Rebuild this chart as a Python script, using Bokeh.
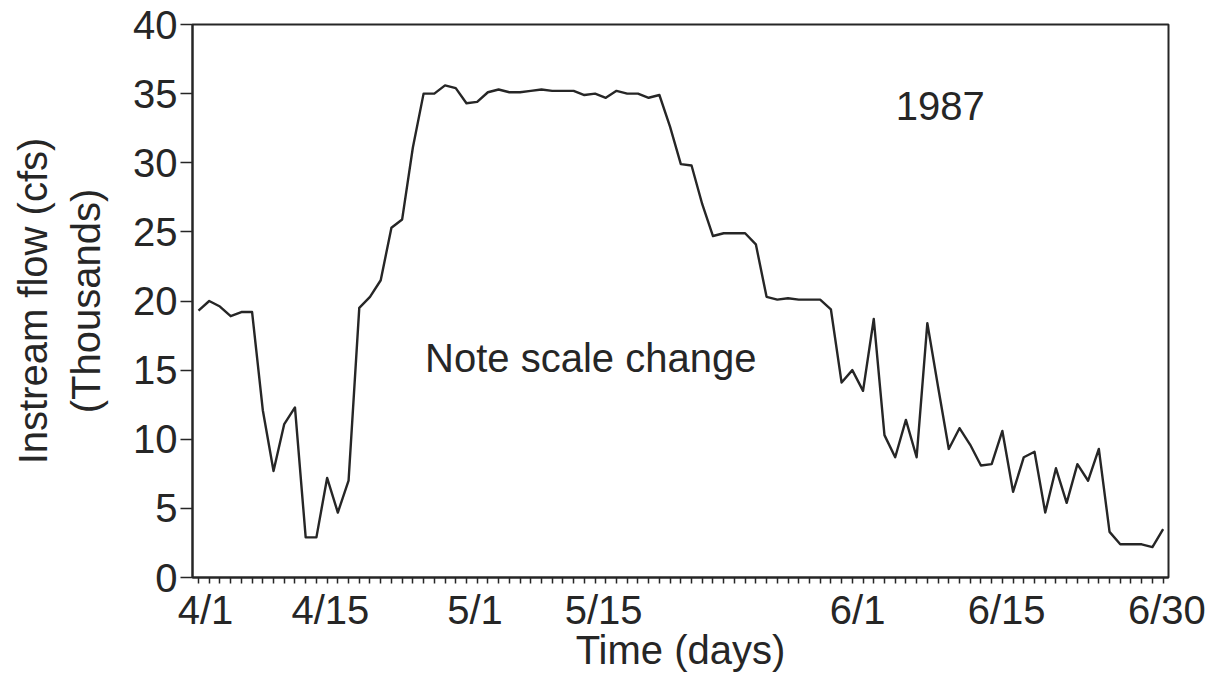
from bokeh.plotting import figure
from bokeh.models import Range1d, FixedTicker, Label
from bokeh.embed import file_html
from bokeh.resources import INLINE

# ---- data ----
days = list(range(91))  # day index, 0 = 4/1 ... 90 = 6/30
flow = [19.3, 20.0, 19.6, 18.9, 19.2, 19.2, 12.1, 7.7, 11.1, 12.3,
        2.9, 2.9, 7.2, 4.7, 7.0, 19.5, 20.3, 21.5, 25.3, 25.9,
        31.1, 35.0, 35.0, 35.6, 35.4, 34.3, 34.4, 35.1, 35.3, 35.1,
        35.1, 35.2, 35.3, 35.2, 35.2, 35.2, 34.9, 35.0, 34.7, 35.2,
        35.0, 35.0, 34.7, 34.9, 32.6, 29.9, 29.8, 27.0, 24.7, 24.9,
        24.9, 24.9, 24.1, 20.3, 20.1, 20.2, 20.1, 20.1, 20.1, 19.4,
        14.1, 15.0, 13.5, 18.7, 10.3, 8.7, 11.4, 8.7, 18.4, 13.8,
        9.3, 10.8, 9.6, 8.1, 8.2, 10.6, 6.2, 8.7, 9.1, 4.7,
        7.9, 5.4, 8.2, 7.0, 9.3, 3.3, 2.4, 2.4, 2.4, 2.2,
        3.5]
tick_labels = ["4/1", "4/15", "5/1", "5/15", "6/1", "6/15", "6/30"]
tick_label_pos = [0.65, 12.3, 25.8, 37.8, 61.5, 75.4, 90.35]
y_ticks = [0, 5, 10, 15, 20, 25, 30, 35, 40]

FONT = "Liberation Sans"
INK = "#262626"

p = figure(width=1217, height=684, output_backend="svg", toolbar_location=None,
           x_range=Range1d(-0.56, 90.5), y_range=Range1d(0, 40),
           min_border_left=192, min_border_right=49, min_border_top=24, min_border_bottom=107)
p.background_fill_color = "white"
p.border_fill_color = "white"
p.grid.visible = False
p.outline_line_color = INK
p.outline_line_width = 2

p.line(days, flow, line_color=INK, line_width=2.4, line_join="round")

# x axis
xa = p.xaxis[0]
xa.ticker = FixedTicker(ticks=tick_label_pos, minor_ticks=days)
xa.major_label_overrides = {pos: lab for pos, lab in zip(tick_label_pos, tick_labels)}
xa.major_tick_out = 0
xa.major_tick_in = 0
xa.minor_tick_out = 6
xa.minor_tick_in = 0
xa.minor_tick_line_color = INK
xa.minor_tick_line_width = 1.5
xa.axis_line_color = INK
xa.axis_line_width = 2
xa.major_label_text_font = FONT
xa.major_label_text_font_size = "40px"
xa.major_label_text_color = INK
xa.major_label_standoff = 4
xa.axis_label = "Time (days)"
xa.axis_label_text_font = FONT
xa.axis_label_text_font_size = "40px"
xa.axis_label_text_font_style = "normal"
xa.axis_label_text_color = INK
xa.axis_label_standoff = -7

# y axis
ya = p.yaxis[0]
ya.ticker = FixedTicker(ticks=y_ticks)
ya.major_tick_out = 12
ya.major_tick_in = 0
ya.minor_tick_out = 0
ya.minor_tick_in = 0
ya.major_tick_line_color = INK
ya.major_tick_line_width = 1.5
ya.axis_line_color = INK
ya.axis_line_width = 2
ya.major_label_text_font = FONT
ya.major_label_text_font_size = "40px"
ya.major_label_text_color = INK
ya.major_label_standoff = 3
ya.axis_label = "Instream flow (cfs)\n(Thousands)"
ya.axis_label_text_font = FONT
ya.axis_label_text_font_size = "40px"
ya.axis_label_text_font_style = "normal"
ya.axis_label_text_color = INK
ya.axis_label_standoff = 22

p.add_layout(Label(x=69.2, y=34.1, text="1987", text_font=FONT, text_font_size="40px",
                   text_color=INK, text_align="center", text_baseline="middle"))
p.add_layout(Label(x=36.6, y=15.9, text="Note scale change", text_font=FONT,
                   text_font_size="40px", text_color=INK, text_align="center",
                   text_baseline="middle"))

open("out.html", "w").write(file_html(p, INLINE))
